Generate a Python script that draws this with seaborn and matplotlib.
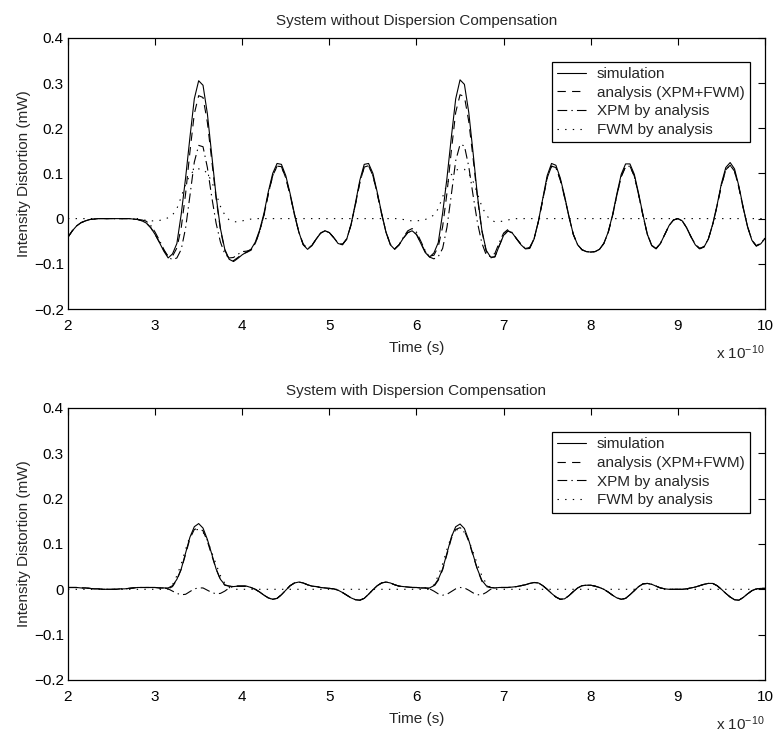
import matplotlib
matplotlib.use("Agg")
import matplotlib.pyplot as plt
import pandas as pd
import seaborn as sns

# ---------------- data (time in units of 1e-10 s, intensity in mW) ----------------
TIME = [
    2.00, 2.05, 2.10, 2.15, 2.20, 2.25, 2.30, 2.35, 2.40, 2.45,
    2.50, 2.55, 2.60, 2.65, 2.70, 2.75, 2.80, 2.85, 2.90, 2.95,
    3.00, 3.05, 3.10, 3.15, 3.20, 3.25, 3.30, 3.35, 3.40, 3.45,
    3.50, 3.55, 3.60, 3.65, 3.70, 3.75, 3.80, 3.85, 3.90, 3.95,
    4.00, 4.05, 4.10, 4.15, 4.20, 4.25, 4.30, 4.35, 4.40, 4.45,
    4.50, 4.55, 4.60, 4.65, 4.70, 4.75, 4.80, 4.85, 4.90, 4.95,
    5.00, 5.05, 5.10, 5.15, 5.20, 5.25, 5.30, 5.35, 5.40, 5.45,
    5.50, 5.55, 5.60, 5.65, 5.70, 5.75, 5.80, 5.85, 5.90, 5.95,
    6.00, 6.05, 6.10, 6.15, 6.20, 6.25, 6.30, 6.35, 6.40, 6.45,
    6.50, 6.55, 6.60, 6.65, 6.70, 6.75, 6.80, 6.85, 6.90, 6.95,
    7.00, 7.05, 7.10, 7.15, 7.20, 7.25, 7.30, 7.35, 7.40, 7.45,
    7.50, 7.55, 7.60, 7.65, 7.70, 7.75, 7.80, 7.85, 7.90, 7.95,
    8.00, 8.05, 8.10, 8.15, 8.20, 8.25, 8.30, 8.35, 8.40, 8.45,
    8.50, 8.55, 8.60, 8.65, 8.70, 8.75, 8.80, 8.85, 8.90, 8.95,
    9.00, 9.05, 9.10, 9.15, 9.20, 9.25, 9.30, 9.35, 9.40, 9.45,
    9.50, 9.55, 9.60, 9.65, 9.70, 9.75, 9.80, 9.85, 9.90, 9.95,
    10.00,
]

# --- top panel: without dispersion compensation ---
TOP_SIM = [
    -0.041, -0.027, -0.016, -0.009, -0.005, -0.002, -0.001, 0.000, 0.000, 0.000,
    0.000, 0.000, 0.000, 0.000, 0.000, -0.001, -0.002, -0.005, -0.010, -0.020,
    -0.035, -0.053, -0.072, -0.087, -0.078, -0.055, 0.010, 0.090, 0.180, 0.265,
    0.305, 0.295, 0.232, 0.140, 0.050, -0.022, -0.068, -0.090, -0.095, -0.088,
    -0.080, -0.074, -0.068, -0.052, -0.025, 0.012, 0.060, 0.100, 0.122, 0.120,
    0.095, 0.055, 0.010, -0.030, -0.058, -0.068, -0.060, -0.045, -0.032, -0.027,
    -0.031, -0.042, -0.055, -0.058, -0.045, -0.012, 0.035, 0.085, 0.120, 0.122,
    0.100, 0.058, 0.012, -0.030, -0.058, -0.068, -0.058, -0.043, -0.031, -0.027,
    -0.035, -0.055, -0.075, -0.085, -0.076, -0.053, 0.012, 0.090, 0.180, 0.265,
    0.307, 0.297, 0.235, 0.145, 0.050, -0.025, -0.070, -0.085, -0.085, -0.060,
    -0.037, -0.027, -0.032, -0.045, -0.058, -0.067, -0.066, -0.045, -0.005, 0.045,
    0.095, 0.122, 0.118, 0.090, 0.050, 0.005, -0.035, -0.058, -0.069, -0.073,
    -0.074, -0.073, -0.068, -0.055, -0.030, 0.008, 0.055, 0.098, 0.121, 0.121,
    0.098, 0.055, 0.008, -0.035, -0.060, -0.067, -0.055, -0.035, -0.015, -0.003,
    0.000, -0.005, -0.020, -0.040, -0.058, -0.067, -0.063, -0.045, -0.012, 0.030,
    0.078, 0.113, 0.124, 0.110, 0.072, 0.025, -0.018, -0.048, -0.061, -0.056,
    -0.044,
]
TOP_ANALYSIS = [
    -0.041, -0.027, -0.016, -0.009, -0.005, -0.002, -0.001, 0.000, 0.000, 0.000,
    0.000, 0.000, 0.000, 0.000, 0.000, -0.001, -0.002, -0.005, -0.010, -0.020,
    -0.035, -0.052, -0.070, -0.083, -0.083, -0.065, -0.020, 0.055, 0.148, 0.232,
    0.272, 0.268, 0.213, 0.130, 0.045, -0.025, -0.070, -0.090, -0.093, -0.086,
    -0.078, -0.075, -0.070, -0.055, -0.028, 0.008, 0.055, 0.095, 0.116, 0.115,
    0.090, 0.052, 0.008, -0.030, -0.057, -0.066, -0.059, -0.045, -0.032, -0.027,
    -0.031, -0.042, -0.054, -0.057, -0.045, -0.013, 0.032, 0.080, 0.114, 0.117,
    0.095, 0.055, 0.010, -0.030, -0.057, -0.067, -0.058, -0.043, -0.031, -0.027,
    -0.035, -0.054, -0.073, -0.083, -0.081, -0.062, -0.018, 0.057, 0.150, 0.235,
    0.274, 0.270, 0.215, 0.133, 0.046, -0.027, -0.072, -0.087, -0.084, -0.060,
    -0.037, -0.027, -0.032, -0.045, -0.057, -0.066, -0.064, -0.044, -0.006, 0.042,
    0.090, 0.116, 0.113, 0.086, 0.047, 0.004, -0.035, -0.058, -0.069, -0.073,
    -0.074, -0.073, -0.068, -0.055, -0.031, 0.006, 0.052, 0.093, 0.115, 0.116,
    0.094, 0.052, 0.006, -0.035, -0.059, -0.066, -0.055, -0.035, -0.015, -0.003,
    0.000, -0.005, -0.020, -0.040, -0.057, -0.066, -0.062, -0.045, -0.013, 0.028,
    0.074, 0.108, 0.118, 0.105, 0.069, 0.023, -0.018, -0.048, -0.060, -0.055,
    -0.043,
]
TOP_XPM = [
    -0.041, -0.027, -0.016, -0.009, -0.005, -0.002, -0.001, 0.000, 0.000, 0.000,
    0.000, 0.000, 0.000, 0.000, 0.000, -0.001, -0.002, -0.003, -0.006, -0.015,
    -0.030, -0.048, -0.068, -0.085, -0.091, -0.087, -0.068, -0.021, 0.051, 0.125,
    0.162, 0.159, 0.113, 0.048, -0.010, -0.052, -0.078, -0.087, -0.086, -0.079,
    -0.073, -0.072, -0.069, -0.055, -0.028, 0.008, 0.055, 0.095, 0.116, 0.115,
    0.090, 0.052, 0.008, -0.030, -0.057, -0.066, -0.059, -0.045, -0.032, -0.027,
    -0.031, -0.042, -0.054, -0.057, -0.045, -0.013, 0.032, 0.080, 0.114, 0.117,
    0.095, 0.055, 0.010, -0.030, -0.057, -0.067, -0.058, -0.041, -0.027, -0.022,
    -0.030, -0.050, -0.071, -0.085, -0.089, -0.084, -0.066, -0.019, 0.053, 0.128,
    0.164, 0.161, 0.115, 0.051, -0.009, -0.054, -0.080, -0.084, -0.077, -0.053,
    -0.032, -0.024, -0.031, -0.045, -0.057, -0.066, -0.064, -0.044, -0.006, 0.042,
    0.090, 0.116, 0.113, 0.086, 0.047, 0.004, -0.035, -0.058, -0.069, -0.073,
    -0.074, -0.073, -0.068, -0.055, -0.031, 0.006, 0.052, 0.093, 0.115, 0.116,
    0.094, 0.052, 0.006, -0.035, -0.059, -0.066, -0.055, -0.035, -0.015, -0.003,
    0.000, -0.005, -0.020, -0.040, -0.057, -0.066, -0.062, -0.045, -0.013, 0.028,
    0.074, 0.108, 0.118, 0.105, 0.069, 0.023, -0.018, -0.048, -0.060, -0.055,
    -0.043,
]
TOP_FWM = [
    0.000, 0.000, 0.000, 0.000, 0.000, 0.000, 0.000, 0.000, 0.000, 0.000,
    0.000, 0.000, 0.000, 0.000, 0.000, 0.000, 0.000, -0.002, -0.004, -0.005,
    -0.005, -0.004, -0.002, 0.002, 0.008, 0.022, 0.048, 0.076, 0.097, 0.107,
    0.110, 0.109, 0.100, 0.082, 0.055, 0.027, 0.008, -0.003, -0.007, -0.007,
    -0.005, -0.003, -0.001, 0.000, 0.000, 0.000, 0.000, 0.000, 0.000, 0.000,
    0.000, 0.000, 0.000, 0.000, 0.000, 0.000, 0.000, 0.000, 0.000, 0.000,
    0.000, 0.000, 0.000, 0.000, 0.000, 0.000, 0.000, 0.000, 0.000, 0.000,
    0.000, 0.000, 0.000, 0.000, 0.000, 0.000, 0.000, -0.002, -0.004, -0.005,
    -0.005, -0.004, -0.002, 0.002, 0.008, 0.022, 0.048, 0.076, 0.097, 0.107,
    0.110, 0.109, 0.100, 0.082, 0.055, 0.027, 0.008, -0.003, -0.007, -0.007,
    -0.005, -0.003, -0.001, 0.000, 0.000, 0.000, 0.000, 0.000, 0.000, 0.000,
    0.000, 0.000, 0.000, 0.000, 0.000, 0.000, 0.000, 0.000, 0.000, 0.000,
    0.000, 0.000, 0.000, 0.000, 0.000, 0.000, 0.000, 0.000, 0.000, 0.000,
    0.000, 0.000, 0.000, 0.000, 0.000, 0.000, 0.000, 0.000, 0.000, 0.000,
    0.000, 0.000, 0.000, 0.000, 0.000, 0.000, 0.000, 0.000, 0.000, 0.000,
    0.000, 0.000, 0.000, 0.000, 0.000, 0.000, 0.000, 0.000, 0.000, 0.000,
    0.000,
]

# --- bottom panel: with dispersion compensation ---
BOT_SIM = [
    0.004, 0.004, 0.004, 0.003, 0.003, 0.002, 0.001, 0.001, 0.000, 0.000,
    0.000, 0.000, 0.001, 0.001, 0.002, 0.003, 0.004, 0.004, 0.004, 0.004,
    0.004, 0.003, 0.003, 0.003, 0.008, 0.022, 0.045, 0.080, 0.115, 0.138,
    0.145, 0.135, 0.110, 0.078, 0.045, 0.022, 0.010, 0.007, 0.006, 0.007,
    0.007, 0.007, 0.004, 0.000, -0.006, -0.013, -0.019, -0.022, -0.020, -0.012,
    -0.002, 0.008, 0.014, 0.016, 0.014, 0.010, 0.007, 0.006, 0.004, 0.003,
    0.002, 0.001, -0.002, -0.007, -0.013, -0.019, -0.023, -0.024, -0.020, -0.011,
    -0.001, 0.008, 0.014, 0.016, 0.014, 0.010, 0.007, 0.006, 0.005, 0.004,
    0.004, 0.003, 0.003, 0.003, 0.008, 0.022, 0.045, 0.080, 0.115, 0.138,
    0.144, 0.134, 0.108, 0.076, 0.044, 0.020, 0.008, 0.004, 0.003, 0.004,
    0.004, 0.004, 0.005, 0.006, 0.008, 0.010, 0.013, 0.015, 0.014, 0.008,
    0.000, -0.009, -0.017, -0.022, -0.021, -0.014, -0.005, 0.003, 0.008, 0.009,
    0.009, 0.007, 0.004, 0.000, -0.006, -0.013, -0.019, -0.022, -0.020, -0.012,
    -0.003, 0.006, 0.012, 0.013, 0.011, 0.007, 0.003, 0.001, 0.000, 0.000,
    0.000, 0.000, 0.001, 0.003, 0.005, 0.008, 0.011, 0.013, 0.013, 0.008,
    0.000, -0.009, -0.017, -0.023, -0.024, -0.018, -0.010, -0.003, 0.001, 0.002,
    0.002,
]
BOT_ANALYSIS = [
    0.004, 0.004, 0.004, 0.003, 0.003, 0.002, 0.001, 0.001, 0.000, 0.000,
    0.000, 0.000, 0.001, 0.001, 0.002, 0.003, 0.004, 0.004, 0.004, 0.004,
    0.004, 0.003, 0.003, 0.001, 0.006, 0.021, 0.044, 0.077, 0.112, 0.132,
    0.135, 0.129, 0.106, 0.075, 0.045, 0.021, 0.009, 0.007, 0.006, 0.007,
    0.007, 0.007, 0.004, 0.000, -0.006, -0.013, -0.019, -0.022, -0.020, -0.012,
    -0.002, 0.008, 0.014, 0.016, 0.014, 0.010, 0.007, 0.006, 0.004, 0.003,
    0.002, 0.001, -0.002, -0.007, -0.013, -0.019, -0.023, -0.024, -0.020, -0.011,
    -0.001, 0.008, 0.014, 0.016, 0.014, 0.010, 0.007, 0.006, 0.005, 0.004,
    0.004, 0.003, 0.003, 0.001, 0.006, 0.020, 0.043, 0.077, 0.112, 0.132,
    0.136, 0.129, 0.106, 0.074, 0.043, 0.018, 0.006, 0.004, 0.003, 0.004,
    0.004, 0.004, 0.005, 0.006, 0.008, 0.010, 0.013, 0.015, 0.014, 0.008,
    0.000, -0.009, -0.017, -0.022, -0.021, -0.014, -0.005, 0.003, 0.008, 0.009,
    0.009, 0.007, 0.004, 0.000, -0.006, -0.013, -0.019, -0.022, -0.020, -0.012,
    -0.003, 0.006, 0.012, 0.013, 0.011, 0.007, 0.003, 0.001, 0.000, 0.000,
    0.000, 0.000, 0.001, 0.003, 0.005, 0.008, 0.011, 0.013, 0.013, 0.008,
    0.000, -0.009, -0.017, -0.023, -0.024, -0.018, -0.010, -0.003, 0.001, 0.002,
    0.002,
]
BOT_XPM = [
    0.004, 0.004, 0.004, 0.003, 0.003, 0.002, 0.001, 0.001, 0.000, 0.000,
    0.000, 0.000, 0.001, 0.001, 0.002, 0.003, 0.004, 0.004, 0.004, 0.004,
    0.004, 0.003, 0.003, 0.001, -0.004, -0.009, -0.012, -0.011, -0.005, 0.001,
    0.003, 0.003, -0.002, -0.007, -0.010, -0.009, -0.004, 0.003, 0.006, 0.007,
    0.007, 0.007, 0.004, 0.000, -0.006, -0.013, -0.019, -0.022, -0.020, -0.012,
    -0.002, 0.008, 0.014, 0.016, 0.014, 0.010, 0.007, 0.006, 0.004, 0.003,
    0.002, 0.001, -0.002, -0.007, -0.013, -0.019, -0.023, -0.024, -0.020, -0.011,
    -0.001, 0.008, 0.014, 0.016, 0.014, 0.010, 0.007, 0.006, 0.005, 0.004,
    0.004, 0.003, 0.003, 0.001, -0.004, -0.010, -0.013, -0.011, -0.005, 0.001,
    0.004, 0.003, -0.002, -0.008, -0.012, -0.012, -0.007, 0.000, 0.003, 0.004,
    0.004, 0.004, 0.005, 0.006, 0.008, 0.010, 0.013, 0.015, 0.014, 0.008,
    0.000, -0.009, -0.017, -0.022, -0.021, -0.014, -0.005, 0.003, 0.008, 0.009,
    0.009, 0.007, 0.004, 0.000, -0.006, -0.013, -0.019, -0.022, -0.020, -0.012,
    -0.003, 0.006, 0.012, 0.013, 0.011, 0.007, 0.003, 0.001, 0.000, 0.000,
    0.000, 0.000, 0.001, 0.003, 0.005, 0.008, 0.011, 0.013, 0.013, 0.008,
    0.000, -0.009, -0.017, -0.023, -0.024, -0.018, -0.010, -0.003, 0.001, 0.002,
    0.002,
]
BOT_FWM = [
    0.000, 0.000, 0.000, 0.000, 0.000, 0.000, 0.000, 0.000, 0.000, 0.000,
    0.000, 0.000, 0.000, 0.000, 0.000, 0.000, 0.000, 0.000, 0.000, 0.000,
    0.000, 0.000, 0.000, 0.000, 0.010, 0.030, 0.056, 0.088, 0.117, 0.131,
    0.132, 0.126, 0.108, 0.082, 0.055, 0.030, 0.013, 0.004, 0.000, 0.000,
    0.000, 0.000, 0.000, 0.000, 0.000, 0.000, 0.000, 0.000, 0.000, 0.000,
    0.000, 0.000, 0.000, 0.000, 0.000, 0.000, 0.000, 0.000, 0.000, 0.000,
    0.000, 0.000, 0.000, 0.000, 0.000, 0.000, 0.000, 0.000, 0.000, 0.000,
    0.000, 0.000, 0.000, 0.000, 0.000, 0.000, 0.000, 0.000, 0.000, 0.000,
    0.000, 0.000, 0.000, 0.000, 0.010, 0.030, 0.056, 0.088, 0.117, 0.131,
    0.132, 0.126, 0.108, 0.082, 0.055, 0.030, 0.013, 0.004, 0.000, 0.000,
    0.000, 0.000, 0.000, 0.000, 0.000, 0.000, 0.000, 0.000, 0.000, 0.000,
    0.000, 0.000, 0.000, 0.000, 0.000, 0.000, 0.000, 0.000, 0.000, 0.000,
    0.000, 0.000, 0.000, 0.000, 0.000, 0.000, 0.000, 0.000, 0.000, 0.000,
    0.000, 0.000, 0.000, 0.000, 0.000, 0.000, 0.000, 0.000, 0.000, 0.000,
    0.000, 0.000, 0.000, 0.000, 0.000, 0.000, 0.000, 0.000, 0.000, 0.000,
    0.000, 0.000, 0.000, 0.000, 0.000, 0.000, 0.000, 0.000, 0.000, 0.000,
    0.000,
]

SERIES_NAMES = ["simulation", "analysis (XPM+FWM)", "XPM by analysis", "FWM by analysis"]
PANEL_TITLES = ["System without Dispersion Compensation", "System with Dispersion Compensation"]
X_TICKS = [2, 3, 4, 5, 6, 7, 8, 9, 10]
Y_TICKS = [-0.2, -0.1, 0.0, 0.1, 0.2, 0.3, 0.4]
Y_TICK_LABELS = ["\u22120.2", "\u22120.1", "0", "0.1", "0.2", "0.3", "0.4"]
X_LABEL = "Time (s)"
Y_LABEL = "Intensity Distortion (mW)"
X_SCALE_TEXT = r"x 10$^{-10}$"

# ---------------- build long-form table ----------------
rows = []
panel_data = [
    [TOP_SIM, TOP_ANALYSIS, TOP_XPM, TOP_FWM],
    [BOT_SIM, BOT_ANALYSIS, BOT_XPM, BOT_FWM],
]
for p, series_list in enumerate(panel_data):
    for name, vals in zip(SERIES_NAMES, series_list):
        for t, v in zip(TIME, vals):
            rows.append({"panel": p, "series": name, "t": t, "v": v})
df = pd.DataFrame(rows)

# ---------------- style ----------------
sns.set_style("white")
plt.rcParams["font.family"] = ["Liberation Sans", "DejaVu Sans"]
plt.rcParams["mathtext.default"] = "regular"
plt.rcParams["lines.scale_dashes"] = False
plt.rcParams["axes.linewidth"] = 0.9
plt.rcParams["axes.edgecolor"] = "black"

LINESTYLES = {
    "simulation": "-",
    "analysis (XPM+FWM)": (0, (6, 4.5)),
    "XPM by analysis": (0, (7, 3, 1, 3)),
    "FWM by analysis": (0, (1, 4.5)),
}

fig = plt.figure(figsize=(7.75, 7.34), dpi=100)
axes = [
    fig.add_axes([0.0877, 0.579, 0.8994, 0.3695]),
    fig.add_axes([0.0877, 0.0736, 0.8994, 0.3706]),
]

for p, ax in enumerate(axes):
    sub = df[df["panel"] == p]
    for name in SERIES_NAMES:
        s = sub[sub["series"] == name]
        sns.lineplot(data=s, x="t", y="v", ax=ax, color="black", lw=0.8,
                     linestyle=LINESTYLES[name], label=name,
                     estimator=None, sort=False)
    ax.set_xlim(2, 10)
    ax.set_ylim(-0.2, 0.4)
    ax.set_xticks(X_TICKS)
    ax.set_xticklabels([str(x) for x in X_TICKS])
    ax.set_yticks(Y_TICKS)
    ax.set_yticklabels(Y_TICK_LABELS)
    ax.tick_params(axis="both", direction="in", length=5, width=0.8,
                   top=True, right=True, labelsize=11, colors="black")
    ax.tick_params(axis="x", pad=7)
    ax.tick_params(axis="y", pad=3)
    for sp in ax.spines.values():
        sp.set_visible(True)
        sp.set_color("black")
    ax.set_title(PANEL_TITLES[p], fontsize=11, pad=9)
    ax.set_xlabel(X_LABEL, fontsize=11, labelpad=6)
    ax.set_ylabel(Y_LABEL, fontsize=11, labelpad=2)
    ax.text(1.0, -0.16, X_SCALE_TEXT, transform=ax.transAxes,
            ha="right", va="center", fontsize=11)
    leg = ax.legend(loc="upper right", bbox_to_anchor=(0.9785, 0.9114),
                    borderaxespad=0, fontsize=11, frameon=True, fancybox=False,
                    edgecolor="black", framealpha=1, handlelength=1.9,
                    handletextpad=0.7, labelspacing=0.3, borderpad=0.35)
    leg.get_frame().set_linewidth(0.9)

fig.savefig("out.png", dpi=100)
